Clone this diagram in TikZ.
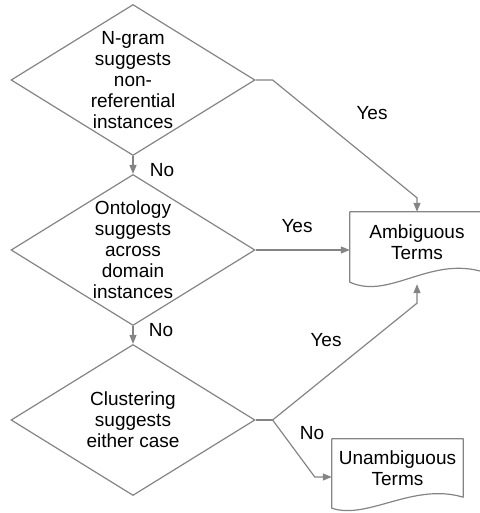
\documentclass[tikz,border=0pt]{standalone}
\usepackage{fontspec}
\setmainfont{Liberation Sans}
\usetikzlibrary{shapes.geometric,arrows.meta}
\definecolor{linegray}{RGB}{132,132,132}
\begin{document}
\begin{tikzpicture}[x=1pt,y=-1pt,
    decision/.style={diamond,draw=linegray,line width=1.2pt,minimum width=244pt,minimum height=151pt,inner sep=0pt},
    dtext/.style={align=center,inner sep=0pt,font=\fontsize{19}{21}\selectfont},
    doc/.style={align=center,inner sep=0pt,font=\fontsize{19}{21}\selectfont},
    docline/.style={draw=linegray,line width=1.2pt,line join=round},
    flow/.style={draw=linegray,line width=1.2pt,-{Triangle[length=9pt,width=7pt]}},
    lbl/.style={inner sep=0pt,font=\fontsize{19}{21}\selectfont}]
\useasboundingbox (0,0) rectangle (479,513);
% decisions
\node[decision] (ngram) at (133,80) {};
\node[dtext] (ngramtxt) at (ngram) {N-gram\\suggests\\non-\\referential\\instances};
\node[decision] (onto) at (133,250) {};
\node[dtext] (ontotxt) at (onto) {Ontology\\suggests\\across\\domain\\instances};
\node[decision] (clus) at (133,420) {};
\node[dtext] (clustxt) at (clus) {Clustering\\suggests\\either case};
% results
\node[doc,minimum width=134pt,minimum height=60pt] (ambig) at (417,242) {Ambiguous\\Terms};
\draw[docline] (ambig.north west) -- (ambig.north east) -- (ambig.south east)
    .. controls +(-54,-17) and +(40,18) .. ([yshift=-10pt]ambig.south west) -- cycle;
\node[doc,minimum width=131pt,minimum height=58pt] (unamb) at (397.5,468) {Unambiguous\\Terms};
\draw[docline] (unamb.north west) -- (unamb.north east) -- (unamb.south east)
    .. controls +(-50,-15) and +(36,12) .. ([yshift=-11pt]unamb.south west) -- cycle;
% connectors
\coordinate (amb_top) at ([yshift=14pt]ambig.north);
\coordinate (amb_low) at ([yshift=-31pt]ambig.south);
\coordinate (amb_in) at ([yshift=-12pt]ambig.south);
\coordinate (un_in) at ([yshift=-9pt]unamb.west);
\coordinate (un_bend) at ([xshift=-17pt]un_in);
\draw[flow] (ngram.south) -- (onto.north);
\draw[flow] (onto.south) -- (clus.north);
\draw[flow] (ngram.east) -- ++(17,0) -- (amb_top) -- (ambig.north);
\draw[flow] (onto.east) -- (onto.east -| ambig.west);
\draw[draw=linegray,line width=1.2pt] (clus.east) -- ++(17,0) coordinate (split);
\draw[flow] (split) -- (amb_low) -- (amb_in);
\draw[flow] (split) -- (un_bend) -- (un_in);
% labels
\node[lbl] (yes1) at (372,113) {Yes};
\node[lbl] (yes2) at (297,226) {Yes};
\node[lbl] (yes3) at (326,340) {Yes};
\node[lbl] (no1) at (162,170) {No};
\node[lbl] (no2) at (161,330) {No};
\node[lbl] (no3) at (312,433) {No};
\end{tikzpicture}
\end{document}
